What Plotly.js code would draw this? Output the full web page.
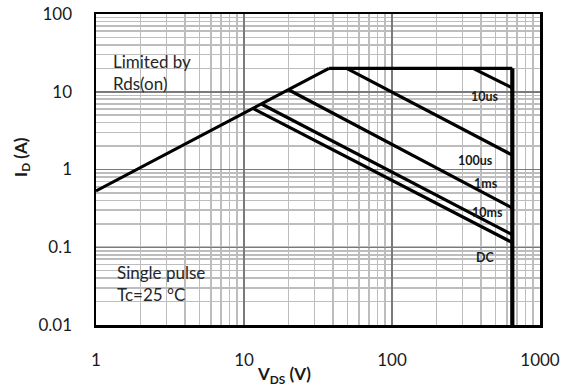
<!DOCTYPE html>
<html>
<head>
<meta charset="utf-8">
<script src="https://cdn.plot.ly/plotly-3.0.1.min.js"></script>
<style>html,body{margin:0;padding:0;background:#fff;}#chart{width:570px;height:389px;}</style>
</head>
<body>
<div id="chart"></div>
<script>
// ---- data (V in volts, I in amperes) ----
var rdsV = [1, 37.5];
var rdsI = [0.53, 20];
var flatV = [37.5, 650];
var flatI = [20, 20];
var vmaxV = [650, 650];
var vmaxI = [20, 0.01];
var us10V = [353, 650];
var us10I = [20, 11.2];
var us100V = [49.4, 650];
var us100I = [20, 1.53];
var ms1V = [20, 650];
var ms1I = [10.6, 0.32];
var ms10V = [13.2, 650];
var ms10I = [6.9, 0.145];
var dcV = [11.5, 650];
var dcI = [6.1, 0.115];

var curveLabels = ["10us", "100us", "1ms", "10ms", "DC"];
var labelV = [425, 364, 432, 439, 425];
var labelI = [8.8, 1.32, 0.67, 0.276, 0.0728];

var xTickVals = [1, 10, 100, 1000];
var xTickText = ["1", "10", "100", "1000"];
var yTickVals = [0.01, 0.1, 1, 10, 100];
var yTickText = ["0.01", "0.1", "1", "10", "100"];

var FONT = "Lato, 'Open Sans', sans-serif";

function line(x, y, w) {
  return {x: x, y: y, type: "scatter", mode: "lines", hoverinfo: "skip",
          line: {color: "#000000", width: w}, showlegend: false};
}
var traces = [
  line(rdsV, rdsI, 3.2),
  line(flatV, flatI, 3.2),
  line(us10V, us10I, 3.2),
  line(us100V, us100I, 3.2),
  line(ms1V, ms1I, 3.2),
  line(ms10V, ms10I, 3.2),
  line(dcV, dcI, 3.2),
  line(vmaxV, vmaxI, 4.2)
];

var annotations = [];
for (var i = 0; i < curveLabels.length; i++) {
  annotations.push({x: Math.log10(labelV[i]), y: Math.log10(labelI[i]), xref: "x", yref: "y",
    text: "<b>" + curveLabels[i] + "</b>", showarrow: false,
    font: {family: FONT, size: 12.5, color: "#1a1a1a"}});
}
annotations.push({x: 0.034, y: 0.812, xref: "paper", yref: "paper", xanchor: "left", yanchor: "middle",
  text: "Limited by<br>Rds(on)", align: "left", showarrow: false,
  font: {family: FONT, size: 17, color: "#262626"}});
annotations.push({x: 0.043, y: 0.132, xref: "paper", yref: "paper", xanchor: "left", yanchor: "middle",
  text: "Single pulse<br>Tc=25 \u00B0C", align: "left", showarrow: false,
  font: {family: FONT, size: 17, color: "#262626"}});
annotations.push({x: 0.423, y: -0.161, xref: "paper", yref: "paper", xanchor: "center", yanchor: "middle",
  text: "<b>V<sub>DS</sub> (V)</b>", showarrow: false,
  font: {family: FONT, size: 17, color: "#1a1a1a"}});
annotations.push({x: -0.167, y: 0.54, xref: "paper", yref: "paper", xanchor: "center", yanchor: "middle",
  text: "<b>I<sub>D</sub> (A)</b>", textangle: -90, showarrow: false,
  font: {family: FONT, size: 17, color: "#1a1a1a"}});

var shapes = [
  {type: "rect", xref: "paper", yref: "paper", x0: 0.004, x1: 0.227, y0: 0.781, y1: 0.91,
   fillcolor: "#ffffff", line: {width: 0}, layer: "between"},
  {type: "rect", xref: "paper", yref: "paper", x0: 0.004, x1: 0.32, y0: 0.055, y1: 0.209,
   fillcolor: "#ffffff", line: {width: 0}, layer: "between"}
];

var layout = {
  width: 570, height: 389,
  margin: {l: 96, r: 30, t: 14, b: 64},
  paper_bgcolor: "#ffffff", plot_bgcolor: "#ffffff",
  font: {family: FONT, size: 17, color: "#1a1a1a"},
  showlegend: false,
  xaxis: {type: "log", range: [0, 3], tickvals: xTickVals, ticktext: xTickText,
    ticks: "", ticklabelstandoff: 18, showline: true, linecolor: "#000000", linewidth: 2.5, mirror: true,
    showgrid: true, gridcolor: "#7a7a7a", gridwidth: 1.5, zeroline: false,
    minor: {dtick: "D1", showgrid: true, gridcolor: "#bdbdbd", gridwidth: 1.6, ticks: ""},
    tickfont: {family: FONT, size: 17, color: "#1a1a1a"}},
  yaxis: {type: "log", range: [-2, 2], tickvals: yTickVals, ticktext: yTickText,
    ticks: "", ticklabelstandoff: 18, showline: true, linecolor: "#000000", linewidth: 2.5, mirror: true,
    showgrid: true, gridcolor: "#7a7a7a", gridwidth: 1.5, zeroline: false,
    minor: {dtick: "D1", showgrid: true, gridcolor: "#bdbdbd", gridwidth: 1.6, ticks: ""},
    tickfont: {family: FONT, size: 17, color: "#1a1a1a"}},
  annotations: annotations,
  shapes: shapes
};

Plotly.newPlot("chart", traces, layout, {staticPlot: true, displayModeBar: false});
</script>
</body>
</html>
